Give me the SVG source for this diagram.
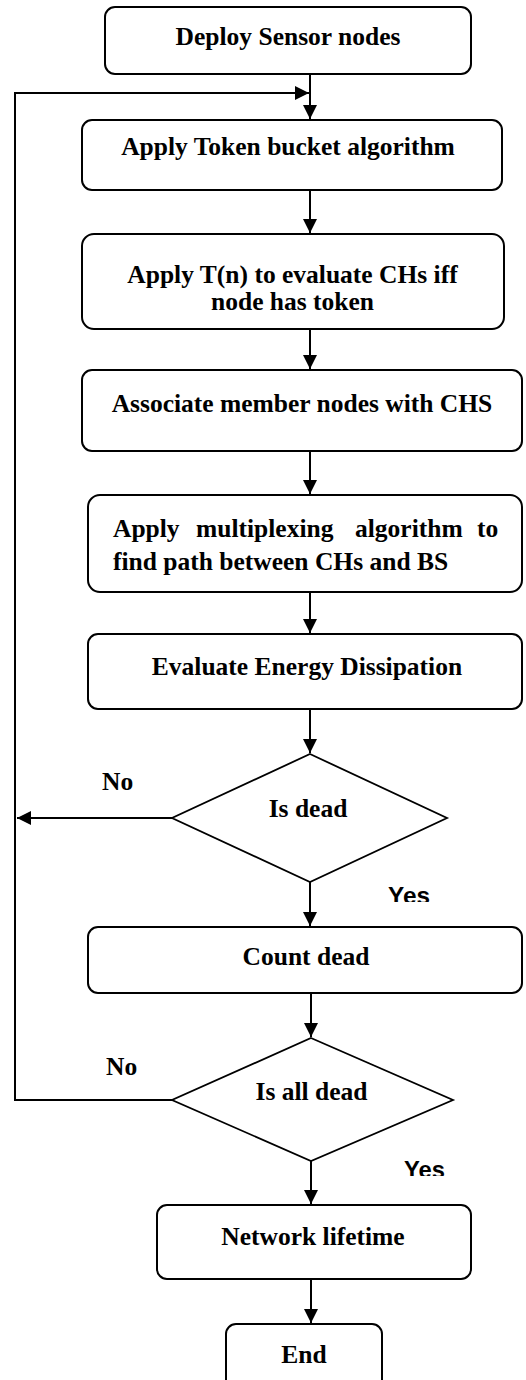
<svg xmlns="http://www.w3.org/2000/svg" width="526" height="1380" viewBox="0 0 526 1380">
<defs>
<style>
.box{fill:#fff;stroke:#000;stroke-width:2}
.dia{fill:#fff;stroke:#000;stroke-width:1.8}
.t{font-family:"Liberation Serif","Times New Roman",serif;font-weight:bold;font-size:25.5px;fill:#000}
.c{text-anchor:middle}
.ln{fill:none;stroke:#000;stroke-width:2}
.yes{font-family:"Liberation Sans",Arial,sans-serif;font-weight:bold;font-size:24px;fill:#000}
</style>
<marker id="ah" markerUnits="userSpaceOnUse" markerWidth="14" markerHeight="14" refX="14" refY="7" orient="auto">
<path d="M0,0 L14,7 L0,14 z" fill="#000"/>
</marker>
<clipPath id="cy1"><rect x="370" y="870" width="100" height="32"/></clipPath>
<clipPath id="cy2"><rect x="380" y="1145" width="100" height="31"/></clipPath>
</defs>
<g id="connectors">
<line class="ln" x1="310" y1="74" x2="310" y2="119" marker-end="url(#ah)"/>
<line class="ln" x1="310" y1="190" x2="310" y2="233" marker-end="url(#ah)"/>
<line class="ln" x1="310" y1="326" x2="310" y2="369" marker-end="url(#ah)"/>
<line class="ln" x1="310" y1="451" x2="310" y2="494" marker-end="url(#ah)"/>
<line class="ln" x1="310" y1="592" x2="310" y2="633" marker-end="url(#ah)"/>
<line class="ln" x1="310" y1="709" x2="310" y2="753" marker-end="url(#ah)"/>
<line class="ln" x1="310" y1="882" x2="310" y2="926" marker-end="url(#ah)"/>
<line class="ln" x1="311" y1="993" x2="311" y2="1037" marker-end="url(#ah)"/>
<line class="ln" x1="311" y1="1161" x2="311" y2="1204" marker-end="url(#ah)"/>
<line class="ln" x1="311" y1="1279" x2="311" y2="1323" marker-end="url(#ah)"/>
<path class="ln" d="M172,1100 L15,1100 L15,93 L309,93" marker-end="url(#ah)"/>
<line class="ln" x1="172" y1="818" x2="17" y2="818" marker-end="url(#ah)"/>
<text class="t" x="102" y="790">No</text>
<text class="t" x="106" y="1075">No</text>
<g clip-path="url(#cy1)"><text class="yes" x="388" y="904" textLength="42" lengthAdjust="spacingAndGlyphs">Yes</text></g>
<g clip-path="url(#cy2)"><text class="yes" x="404" y="1178" textLength="41" lengthAdjust="spacingAndGlyphs">Yes</text></g>
</g>
<g id="deploy">
<rect class="box" x="105" y="7" width="366" height="67" rx="10"/>
<text class="t c" x="288" y="45">Deploy Sensor nodes</text>
</g>
<g id="token">
<rect class="box" x="82" y="120" width="420" height="70" rx="10"/>
<text class="t c" x="288" y="155">Apply Token bucket algorithm</text>
</g>
<g id="tn">
<rect class="box" x="82" y="234" width="422" height="95" rx="12"/>
<text class="t c" x="292.5" y="283">Apply T(n) to evaluate CHs iff</text>
<text class="t c" x="292.5" y="310">node has token</text>
</g>
<g id="associate">
<rect class="box" x="82" y="370" width="440" height="81" rx="10"/>
<text class="t c" x="302" y="412">Associate member nodes with CHS</text>
</g>
<g id="multiplex">
<rect class="box" x="88" y="495" width="434" height="97" rx="12"/>
<text class="t" y="537"><tspan x="113">Apply</tspan><tspan x="196">multiplexing</tspan><tspan x="355">algorithm</tspan><tspan x="477">to</tspan></text>
<text class="t" x="113" y="570">find path between CHs and BS</text>
</g>
<g id="energy">
<rect class="box" x="88" y="634" width="434" height="75" rx="10"/>
<text class="t c" x="307" y="675">Evaluate Energy Dissipation</text>
</g>
<g id="isdead">
<polygon class="dia" points="310,754 447,818 310,882 172,818"/>
<text class="t c" x="308" y="817">Is dead</text>
</g>
<g id="count">
<rect class="box" x="88" y="927" width="434" height="66" rx="10"/>
<text class="t c" x="306" y="965">Count dead</text>
</g>
<g id="isalldead">
<polygon class="dia" points="311,1038 453,1100 311,1161 172,1100"/>
<text class="t c" x="311.5" y="1100">Is all dead</text>
</g>
<g id="lifetime">
<rect class="box" x="157" y="1205" width="314" height="74" rx="10"/>
<text class="t c" x="313" y="1245">Network lifetime</text>
</g>
<g id="end">
<rect class="box" x="226" y="1324" width="156" height="70" rx="10"/>
<text class="t c" x="304" y="1363">End</text>
</g>
</svg>
